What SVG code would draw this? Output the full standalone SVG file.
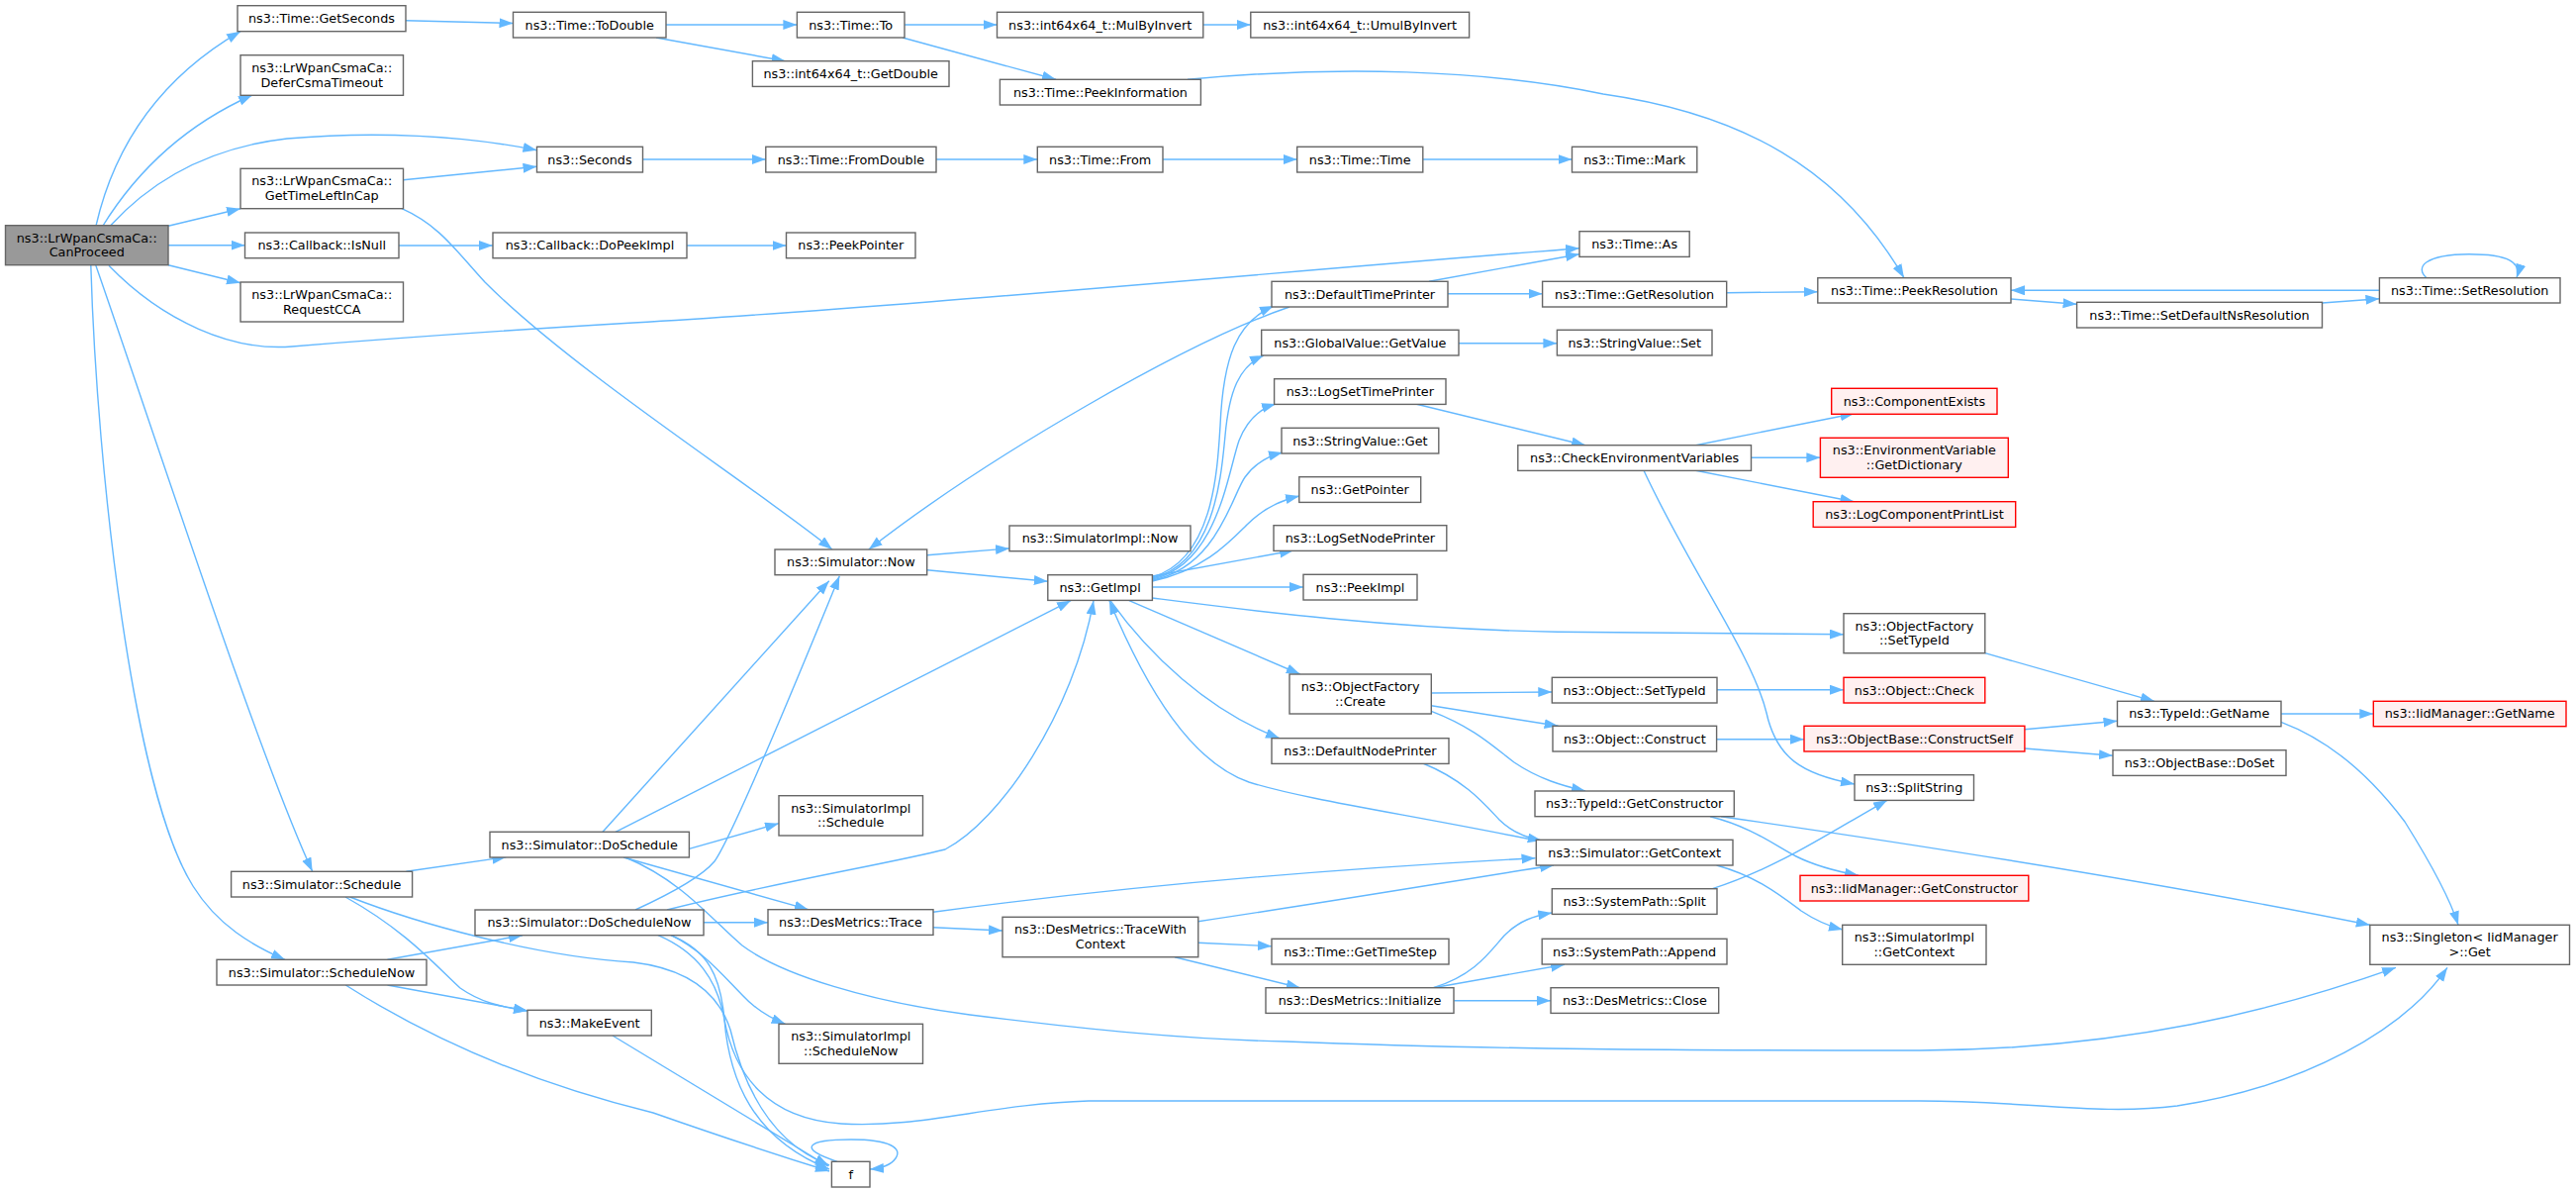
<svg xmlns="http://www.w3.org/2000/svg" width="2603" height="1204" viewBox="0 0 2603 1204">
<style>
.node rect{fill:#ffffff;stroke:#666666;stroke-width:1.4}
.root rect{fill:#999999}
.red rect{fill:#FFF0F0;stroke:#FF0000}
text{font-family:"DejaVu Sans","Liberation Sans",sans-serif;font-size:12.8px;text-anchor:middle;fill:#000000}
.edges path{fill:none;stroke:#63B8FF;stroke-width:1.4;marker-end:url(#arr)}
</style>
<defs>
<marker id="arr" markerUnits="userSpaceOnUse" markerWidth="15" markerHeight="11" refX="14" refY="5" orient="auto"><path d="M0,0 L14,5 L0,10 z" fill="#63B8FF"/></marker>
</defs>
<rect x="0" y="0" width="2603" height="1204" fill="#ffffff"/>
<g id="edges" class="edges">
<path d="M97,228 C115,150 160,80 243,31.7"/>
<path d="M104,228 C140,170 190,125 255,96"/>
<path d="M111.5,228 C160,175 220,148 290,140 C380,132 470,137 542.5,151.7"/>
<path d="M170,228.3 L243,210.7"/>
<path d="M170,247.7 L247.5,247.7"/>
<path d="M170,267.7 L243,285.7"/>
<path d="M110,268.3 C165,325 235,355 295,350 C380,343 470,336 640,326 C900,311 1300,274 1596,250.7"/>
<path d="M96.8,268 C150,420 260,760 315.7,880.3"/>
<path d="M91.8,268 C98,480 135,800 195,895 C220,935 255,955 288,969.3"/>
<path d="M410,20.7 L518.5,23.5"/>
<path d="M673,25 L805.4,25"/>
<path d="M663,38 L793.6,61.7"/>
<path d="M914,25 L1007.5,25"/>
<path d="M912,38 L1067,80.3"/>
<path d="M1215.8,25 L1263.8,25"/>
<path d="M1200,80.3 C1350,66 1500,70 1620,95 C1760,115 1860,170 1924,280.7"/>
<path d="M649.5,161 L773.8,161"/>
<path d="M946,161 L1048.3,161"/>
<path d="M1175,161 L1310.7,161"/>
<path d="M1437.8,161 L1588.5,161"/>
<path d="M407.5,181.7 L542.5,168.3"/>
<path d="M406,210.7 C445,228 462,255 490,285 C580,375 760,490 841,555"/>
<path d="M403,248 L498,248"/>
<path d="M694,248 L794.5,248"/>
<path d="M936.7,560.7 L1020,554"/>
<path d="M936.7,575.7 L1058.8,587.3"/>
<path d="M1303,310 C1200,345 1000,460 877.8,555"/>
<path d="M609,840.3 L837.8,586.7"/>
<path d="M622,840.3 L1082,606.7"/>
<path d="M642,919 C690,897 712,882 722,870 C740,845 800,700 848.3,581.7"/>
<path d="M674,919 C780,892 900,872 955,858 C1010,830 1085,720 1105,606.7"/>
<path d="M696.4,857.3 L787,831.7"/>
<path d="M630,866 L816.8,918.7"/>
<path d="M632,866 C690,890 720,930 750,955 C790,985 880,1012 980,1025 C1100,1040 1200,1050 1300,1052 C1500,1060 1700,1061 1940,1061 C2150,1060 2300,1020 2421,977.3"/>
<path d="M711,931.7 L776,931.7"/>
<path d="M678,944.7 C710,960 730,985 750,1005 C762,1018 775,1027 793.6,1034.3"/>
<path d="M678,944.7 C715,960 728,985 732,1030 C737,1090 760,1150 838,1181"/>
<path d="M665,944.7 C705,962 725,990 732,1030 C742,1085 775,1130 850,1135 C930,1140 1000,1115 1100,1112 L1940,1112 C2050,1112 2120,1127 2200,1117 C2330,1097 2430,1040 2473,977.3"/>
<path d="M410.4,880.3 L511.4,865.7"/>
<path d="M349,906 C410,940 440,975 465,998 C485,1012 505,1017 533,1021"/>
<path d="M353.6,906 C420,932 540,966 640,972 C690,978 725,1000 738,1040 C752,1100 780,1155 838,1177"/>
<path d="M391.5,969.3 L528,944.7"/>
<path d="M391.5,995 L533,1021"/>
<path d="M349.3,995 C420,1040 520,1090 660,1124 C720,1145 780,1165 838,1183"/>
<path d="M619,1046 L837,1178"/>
<path d="M846,1173.3 C805,1160 815,1151 860,1151 C900,1151 912,1160 905,1170 C900,1177 892,1180 879,1181"/>
<path d="M1164.4,583 C1225,565 1230,480 1233,430 C1236,360 1250,325 1287,309"/>
<path d="M1164.4,584 C1228,568 1234,480 1238,440 C1242,395 1252,370 1277,359"/>
<path d="M1164.4,585 C1230,570 1240,480 1252,445 C1260,425 1272,413 1289,408"/>
<path d="M1164.4,586 C1230,573 1245,500 1258,482 C1268,468 1280,461 1296,457"/>
<path d="M1164.4,587 C1215,576 1240,550 1260,530 C1275,515 1295,505 1313,501"/>
<path d="M1164.4,582 L1307,556"/>
<path d="M1164.4,593 L1317,593"/>
<path d="M1164.4,604 C1250,615 1400,635 1574,638.3 L1863,640.7"/>
<path d="M1141,606.7 L1313.7,681"/>
<path d="M1122,606.7 C1160,660 1220,718 1293,745.7"/>
<path d="M1549,848.3 C1420,822 1320,808 1262,790 C1205,770 1160,700 1121,606.7"/>
<path d="M1444,284.3 L1596,256.7"/>
<path d="M1463,296.7 L1558.6,296.7"/>
<path d="M1744.7,295.7 L1836.8,294.7"/>
<path d="M2032,302 L2098.6,307.3"/>
<path d="M2346.5,306 L2404.4,301.7"/>
<path d="M2404.4,293.3 L2032,293.3"/>
<path d="M2452,280.7 C2440,270 2450,257 2495,256.7 C2535,256.7 2548,265 2543,280.7"/>
<path d="M1474,346.7 L1573.4,346.7"/>
<path d="M1431.5,408.3 L1602,449.7"/>
<path d="M1713.5,449.7 L1873.5,417.7"/>
<path d="M1769.5,462.3 L1839.4,462.3"/>
<path d="M1713.5,475.3 L1873.5,506.7"/>
<path d="M1661,475.3 C1710,580 1770,660 1785,720 C1795,765 1820,782 1874,792"/>
<path d="M1446.3,700 L1568.3,699"/>
<path d="M1446.3,712.7 L1574.6,733.3"/>
<path d="M1446.3,718.3 C1490,735 1510,755 1530,770 C1555,787 1580,794 1602,799"/>
<path d="M1735,696.7 L1863,696.7"/>
<path d="M1734.6,746.7 L1823,746.7"/>
<path d="M2005.8,659.7 L2177,708.3"/>
<path d="M2045.9,736.7 L2139.5,728.3"/>
<path d="M2045.9,756 L2135,763.3"/>
<path d="M2305,721 L2398.3,721"/>
<path d="M2305,729.3 C2360,750 2400,790 2430,830 C2455,870 2475,905 2484,934.3"/>
<path d="M1728,824.7 C1770,835 1795,855 1815,865 C1835,875 1855,880 1878,884.3"/>
<path d="M1739,824.7 C1950,855 2200,895 2394.8,934.3"/>
<path d="M1437.8,771 C1480,788 1500,812 1515,828 C1528,841 1542,846 1557.8,849"/>
<path d="M943,921.3 C1100,900 1300,880 1551.5,866.7"/>
<path d="M1210.8,930.7 C1350,910 1480,888 1570,874"/>
<path d="M943,936.7 L1013,940"/>
<path d="M1210.8,952.3 L1285,955.7"/>
<path d="M1187,966.7 L1313.7,997.7"/>
<path d="M1448.4,997.7 C1490,985 1505,962 1520,945 C1535,930 1550,925 1568.3,922"/>
<path d="M1448.4,997.7 L1581,974.3"/>
<path d="M1469.4,1010.7 L1567,1010.7"/>
<path d="M1730.4,897.7 C1800,875 1850,840 1907,808.3"/>
<path d="M1734.6,874 C1775,885 1800,905 1820,920 C1835,930 1850,936 1862,939"/>
</g>
<g id="n_canproceed" class="node root"><rect x="5.5" y="227.7" width="164.5" height="40"/><text x="87.75" y="244.5">ns3::LrWpanCsmaCa::</text><text x="87.75" y="259.2">CanProceed</text></g>
<g id="n_getseconds" class="node"><rect x="240" y="5.7" width="170" height="26"/><text x="325" y="23.1">ns3::Time::GetSeconds</text></g>
<g id="n_defer" class="node"><rect x="243" y="55.7" width="164.5" height="40.6"/><text x="325.25" y="72.8">ns3::LrWpanCsmaCa::</text><text x="325.25" y="87.5">DeferCsmaTimeout</text></g>
<g id="n_gettimeleft" class="node"><rect x="243" y="170.3" width="164.5" height="40.4"/><text x="325.25" y="187.3">ns3::LrWpanCsmaCa::</text><text x="325.25" y="202">GetTimeLeftInCap</text></g>
<g id="n_isnull" class="node"><rect x="247.5" y="235" width="155.5" height="25.7"/><text x="325.25" y="252.2">ns3::Callback::IsNull</text></g>
<g id="n_requestcca" class="node"><rect x="243" y="285" width="164.5" height="40"/><text x="325.25" y="301.8">ns3::LrWpanCsmaCa::</text><text x="325.25" y="316.5">RequestCCA</text></g>
<g id="n_schedule" class="node"><rect x="233.6" y="880.3" width="183" height="25.7"/><text x="325.1" y="897.5">ns3::Simulator::Schedule</text></g>
<g id="n_schedulenow" class="node"><rect x="219" y="969.3" width="212" height="25.7"/><text x="325" y="986.5">ns3::Simulator::ScheduleNow</text></g>
<g id="n_todouble" class="node"><rect x="518.5" y="12.3" width="154.5" height="25.7"/><text x="595.75" y="29.5">ns3::Time::ToDouble</text></g>
<g id="n_seconds" class="node"><rect x="542.5" y="148.3" width="107" height="25.7"/><text x="596" y="165.5">ns3::Seconds</text></g>
<g id="n_dopeekimpl" class="node"><rect x="498" y="235" width="196" height="25.7"/><text x="596" y="252.2">ns3::Callback::DoPeekImpl</text></g>
<g id="n_doschedule" class="node"><rect x="495" y="840.3" width="201.4" height="25.7"/><text x="595.7" y="857.5">ns3::Simulator::DoSchedule</text></g>
<g id="n_doschedulenow" class="node"><rect x="480" y="919" width="231" height="25.7"/><text x="595.5" y="936.2">ns3::Simulator::DoScheduleNow</text></g>
<g id="n_makeevent" class="node"><rect x="533" y="1020.3" width="125.3" height="25.7"/><text x="595.65" y="1037.5">ns3::MakeEvent</text></g>
<g id="n_timeto" class="node"><rect x="805.4" y="12.3" width="108.6" height="25.7"/><text x="859.7" y="29.5">ns3::Time::To</text></g>
<g id="n_getdouble" class="node"><rect x="760.4" y="61.7" width="198.6" height="25.7"/><text x="859.7" y="78.9">ns3::int64x64_t::GetDouble</text></g>
<g id="n_fromdouble" class="node"><rect x="773.8" y="148.3" width="172.2" height="25.7"/><text x="859.9" y="165.5">ns3::Time::FromDouble</text></g>
<g id="n_peekpointer" class="node"><rect x="794.5" y="235" width="130.5" height="25.7"/><text x="859.75" y="252.2">ns3::PeekPointer</text></g>
<g id="n_simnow" class="node"><rect x="783" y="555" width="153.7" height="25.7"/><text x="859.85" y="572.2">ns3::Simulator::Now</text></g>
<g id="n_siimplschedule" class="node"><rect x="787" y="803.7" width="145.5" height="40.3"/><text x="859.75" y="820.6">ns3::SimulatorImpl</text><text x="859.75" y="835.3">::Schedule</text></g>
<g id="n_trace" class="node"><rect x="776" y="918.7" width="167" height="25.7"/><text x="859.5" y="935.9">ns3::DesMetrics::Trace</text></g>
<g id="n_siimplschedulenow" class="node"><rect x="787" y="1034.3" width="145.5" height="40"/><text x="859.75" y="1051.1">ns3::SimulatorImpl</text><text x="859.75" y="1065.8">::ScheduleNow</text></g>
<g id="n_f" class="node"><rect x="840.4" y="1173.3" width="38.6" height="25.7"/><text x="859.7" y="1190.5">f</text></g>
<g id="n_mulbyinvert" class="node"><rect x="1007.5" y="12.3" width="208.3" height="25.7"/><text x="1111.65" y="29.5">ns3::int64x64_t::MulByInvert</text></g>
<g id="n_peekinformation" class="node"><rect x="1010.4" y="80.3" width="203" height="25.7"/><text x="1111.9" y="97.5">ns3::Time::PeekInformation</text></g>
<g id="n_from" class="node"><rect x="1048.3" y="148.3" width="126.7" height="25.7"/><text x="1111.65" y="165.5">ns3::Time::From</text></g>
<g id="n_siimplnow" class="node"><rect x="1020" y="531" width="183" height="25.7"/><text x="1111.5" y="548.2">ns3::SimulatorImpl::Now</text></g>
<g id="n_getimpl" class="node"><rect x="1058.8" y="580.7" width="105.6" height="25.7"/><text x="1111.6" y="597.9">ns3::GetImpl</text></g>
<g id="n_tracewithcontext" class="node"><rect x="1013" y="926.3" width="197.8" height="40.4"/><text x="1111.9" y="943.3">ns3::DesMetrics::TraceWith</text><text x="1111.9" y="958">Context</text></g>
<g id="n_umulbyinvert" class="node"><rect x="1263.8" y="12.3" width="220.8" height="25.7"/><text x="1374.2" y="29.5">ns3::int64x64_t::UmulByInvert</text></g>
<g id="n_timetime" class="node"><rect x="1310.7" y="148.3" width="127.1" height="25.7"/><text x="1374.25" y="165.5">ns3::Time::Time</text></g>
<g id="n_defaulttimeprinter" class="node"><rect x="1285" y="284.3" width="178" height="25.7"/><text x="1374" y="301.5">ns3::DefaultTimePrinter</text></g>
<g id="n_globalvalue" class="node"><rect x="1274.7" y="333.3" width="199.3" height="25.7"/><text x="1374.35" y="350.5">ns3::GlobalValue::GetValue</text></g>
<g id="n_logsettimeprinter" class="node"><rect x="1287.6" y="382.7" width="173.4" height="25.7"/><text x="1374.3" y="399.9">ns3::LogSetTimePrinter</text></g>
<g id="n_stringvalueget" class="node"><rect x="1295" y="432.3" width="158.8" height="25.7"/><text x="1374.4" y="449.5">ns3::StringValue::Get</text></g>
<g id="n_getpointer" class="node"><rect x="1312.8" y="481.7" width="122.9" height="25.7"/><text x="1374.25" y="498.9">ns3::GetPointer</text></g>
<g id="n_logsetnodeprinter" class="node"><rect x="1287" y="530.7" width="174.8" height="25.7"/><text x="1374.4" y="547.9">ns3::LogSetNodePrinter</text></g>
<g id="n_peekimpl" class="node"><rect x="1317" y="580.3" width="115" height="25.7"/><text x="1374.5" y="597.5">ns3::PeekImpl</text></g>
<g id="n_ofcreate" class="node"><rect x="1303" y="681" width="143.3" height="40"/><text x="1374.65" y="697.8">ns3::ObjectFactory</text><text x="1374.65" y="712.5">::Create</text></g>
<g id="n_defaultnodeprinter" class="node"><rect x="1285" y="745.7" width="179" height="25.7"/><text x="1374.5" y="762.9">ns3::DefaultNodePrinter</text></g>
<g id="n_gettimestep" class="node"><rect x="1285" y="948.3" width="179" height="25.7"/><text x="1374.5" y="965.5">ns3::Time::GetTimeStep</text></g>
<g id="n_initialize" class="node"><rect x="1279" y="997.7" width="190" height="25.7"/><text x="1374" y="1014.9">ns3::DesMetrics::Initialize</text></g>
<g id="n_mark" class="node"><rect x="1588.5" y="148.3" width="126.3" height="25.7"/><text x="1651.65" y="165.5">ns3::Time::Mark</text></g>
<g id="n_as" class="node"><rect x="1596" y="233.7" width="111.2" height="25.7"/><text x="1651.6" y="250.9">ns3::Time::As</text></g>
<g id="n_getresolution" class="node"><rect x="1558.6" y="284.3" width="186.1" height="25.7"/><text x="1651.65" y="301.5">ns3::Time::GetResolution</text></g>
<g id="n_stringvalueset" class="node"><rect x="1573.4" y="333.3" width="156.6" height="25.7"/><text x="1651.7" y="350.5">ns3::StringValue::Set</text></g>
<g id="n_checkenv" class="node"><rect x="1533.8" y="449.7" width="235.7" height="25.7"/><text x="1651.65" y="466.9">ns3::CheckEnvironmentVariables</text></g>
<g id="n_objsettypeid" class="node"><rect x="1568.3" y="684.3" width="166.7" height="25.7"/><text x="1651.65" y="701.5">ns3::Object::SetTypeId</text></g>
<g id="n_objconstruct" class="node"><rect x="1569" y="733.3" width="165.6" height="25.7"/><text x="1651.8" y="750.5">ns3::Object::Construct</text></g>
<g id="n_getconstructor" class="node"><rect x="1551" y="799" width="201.3" height="25.7"/><text x="1651.65" y="816.2">ns3::TypeId::GetConstructor</text></g>
<g id="n_getcontext" class="node"><rect x="1552.3" y="848.3" width="198.7" height="25.7"/><text x="1651.65" y="865.5">ns3::Simulator::GetContext</text></g>
<g id="n_split" class="node"><rect x="1568.3" y="897.7" width="166.7" height="25.7"/><text x="1651.65" y="914.9">ns3::SystemPath::Split</text></g>
<g id="n_append" class="node"><rect x="1558.2" y="948.3" width="186.8" height="25.7"/><text x="1651.6" y="965.5">ns3::SystemPath::Append</text></g>
<g id="n_close" class="node"><rect x="1567" y="997.7" width="169.7" height="25.7"/><text x="1651.85" y="1014.9">ns3::DesMetrics::Close</text></g>
<g id="n_peekresolution" class="node"><rect x="1836.8" y="280.7" width="195.2" height="25.3"/><text x="1934.4" y="297.7">ns3::Time::PeekResolution</text></g>
<g id="n_componentexists" class="node red"><rect x="1850.7" y="392.3" width="167.3" height="26"/><text x="1934.35" y="409.7">ns3::ComponentExists</text></g>
<g id="n_envvar" class="node red"><rect x="1839.4" y="442.3" width="189.9" height="40"/><text x="1934.35" y="459.1">ns3::EnvironmentVariable</text><text x="1934.35" y="473.8">::GetDictionary</text></g>
<g id="n_logcomponentprintlist" class="node red"><rect x="1832.2" y="506.7" width="204.5" height="25.7"/><text x="1934.45" y="523.9">ns3::LogComponentPrintList</text></g>
<g id="n_ofsettypeid" class="node"><rect x="1863" y="619.7" width="142.8" height="40"/><text x="1934.4" y="636.5">ns3::ObjectFactory</text><text x="1934.4" y="651.2">::SetTypeId</text></g>
<g id="n_objcheck" class="node red"><rect x="1863" y="684.3" width="142.8" height="25.7"/><text x="1934.4" y="701.5">ns3::Object::Check</text></g>
<g id="n_constructself" class="node red"><rect x="1823" y="733.3" width="222.9" height="25.7"/><text x="1934.45" y="750.5">ns3::ObjectBase::ConstructSelf</text></g>
<g id="n_splitstring" class="node"><rect x="1874" y="782.7" width="120.5" height="25.7"/><text x="1934.25" y="799.9">ns3::SplitString</text></g>
<g id="n_iidgetconstructor" class="node red"><rect x="1819" y="884.3" width="230.8" height="25.7"/><text x="1934.4" y="901.5">ns3::IidManager::GetConstructor</text></g>
<g id="n_siimplgetcontext" class="node"><rect x="1861.7" y="934.3" width="145.3" height="40"/><text x="1934.35" y="951.1">ns3::SimulatorImpl</text><text x="1934.35" y="965.8">::GetContext</text></g>
<g id="n_setdefaultns" class="node"><rect x="2098.6" y="305.3" width="247.9" height="25.7"/><text x="2222.55" y="322.5">ns3::Time::SetDefaultNsResolution</text></g>
<g id="n_typeidgetname" class="node"><rect x="2139.5" y="708.3" width="165.5" height="25.4"/><text x="2222.25" y="725.4">ns3::TypeId::GetName</text></g>
<g id="n_doset" class="node"><rect x="2135" y="757.7" width="175" height="25.7"/><text x="2222.5" y="774.9">ns3::ObjectBase::DoSet</text></g>
<g id="n_setresolution" class="node"><rect x="2404.4" y="280.7" width="182.6" height="25.3"/><text x="2495.7" y="297.7">ns3::Time::SetResolution</text></g>
<g id="n_iidgetname" class="node red"><rect x="2398.3" y="708.3" width="194.7" height="25.4"/><text x="2495.65" y="725.4">ns3::IidManager::GetName</text></g>
<g id="n_singleton" class="node"><rect x="2394.8" y="934.3" width="201.7" height="40"/><text x="2495.65" y="951.1">ns3::Singleton&lt; IidManager</text><text x="2495.65" y="965.8">&gt;::Get</text></g>
</svg>
